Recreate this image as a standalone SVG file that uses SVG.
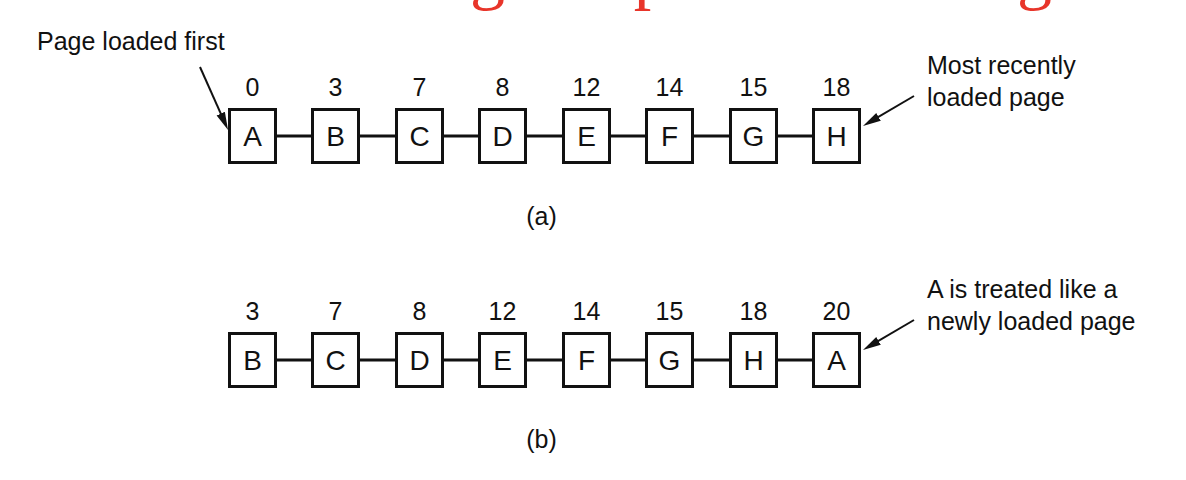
<svg xmlns="http://www.w3.org/2000/svg" width="1186" height="480" viewBox="0 0 1186 480">
  <style>
    .box { fill: #fff; stroke: #111; stroke-width: 3; }
    .conn { stroke: #111; stroke-width: 3; fill: none; }
    .arr { stroke: #111; stroke-width: 2; fill: none; marker-end: url(#ah); }
    .lbl { font-family: "Liberation Sans", Arial, sans-serif; font-size: 28px; fill: #111; text-anchor: middle; }
    .num { font-family: "Liberation Sans", Arial, sans-serif; font-size: 25px; fill: #111; text-anchor: middle; }
    .txt { font-family: "Liberation Sans", Arial, sans-serif; font-size: 25px; fill: #111; }
    .cap { font-family: "Liberation Sans", Arial, sans-serif; font-size: 25px; fill: #111; text-anchor: middle; }
    .title { font-family: "Liberation Serif", "Times New Roman", serif; font-size: 70px; fill: #e8352a; }
  </style>
  <defs>
    <marker id="ah" markerUnits="userSpaceOnUse" markerWidth="20" markerHeight="12" viewBox="0 0 20 12" refX="10" refY="6" orient="auto">
      <path d="M0,1.5 L18,6 L0,10.5 Z" fill="#111"/>
    </marker>
  </defs>
  <rect width="1186" height="480" fill="#fff"/>

  <text class="title" y="-4"><tspan x="-81">Second Chance </tspan><tspan x="400">Page </tspan><tspan x="556">Replacement </tspan><tspan x="947">Algorithm</tspan></text>

  <g id="connectors">
    <line class="conn" x1="277" y1="136" x2="311" y2="136"/>
    <line class="conn" x1="360" y1="136" x2="395" y2="136"/>
    <line class="conn" x1="444" y1="136" x2="478" y2="136"/>
    <line class="conn" x1="527" y1="136" x2="562" y2="136"/>
    <line class="conn" x1="611" y1="136" x2="645" y2="136"/>
    <line class="conn" x1="694" y1="136" x2="729" y2="136"/>
    <line class="conn" x1="778" y1="136" x2="812" y2="136"/>
    <line class="conn" x1="277" y1="360" x2="311" y2="360"/>
    <line class="conn" x1="360" y1="360" x2="395" y2="360"/>
    <line class="conn" x1="444" y1="360" x2="478" y2="360"/>
    <line class="conn" x1="527" y1="360" x2="562" y2="360"/>
    <line class="conn" x1="611" y1="360" x2="645" y2="360"/>
    <line class="conn" x1="694" y1="360" x2="729" y2="360"/>
    <line class="conn" x1="778" y1="360" x2="812" y2="360"/>
    <line class="arr" x1="200" y1="67" x2="224.8" y2="122.7"/>
    <line class="arr" x1="914" y1="96" x2="869.9" y2="121.9"/>
    <line class="arr" x1="914" y1="320" x2="869.9" y2="345.9"/>
  </g>

  <g id="row-a">
    <g id="a-A"><rect class="box" x="229.5" y="109.5" width="46" height="53"/><text class="num" x="252.5" y="96">0</text><text class="lbl" x="252.5" y="146">A</text></g>
    <g id="a-B"><rect class="box" x="312.5" y="109.5" width="46" height="53"/><text class="num" x="335.5" y="96">3</text><text class="lbl" x="335.5" y="146">B</text></g>
    <g id="a-C"><rect class="box" x="396.5" y="109.5" width="46" height="53"/><text class="num" x="419.5" y="96">7</text><text class="lbl" x="419.5" y="146">C</text></g>
    <g id="a-D"><rect class="box" x="479.5" y="109.5" width="46" height="53"/><text class="num" x="502.5" y="96">8</text><text class="lbl" x="502.5" y="146">D</text></g>
    <g id="a-E"><rect class="box" x="563.5" y="109.5" width="46" height="53"/><text class="num" x="586.5" y="96">12</text><text class="lbl" x="586.5" y="146">E</text></g>
    <g id="a-F"><rect class="box" x="646.5" y="109.5" width="46" height="53"/><text class="num" x="669.5" y="96">14</text><text class="lbl" x="669.5" y="146">F</text></g>
    <g id="a-G"><rect class="box" x="730.5" y="109.5" width="46" height="53"/><text class="num" x="753.5" y="96">15</text><text class="lbl" x="753.5" y="146">G</text></g>
    <g id="a-H"><rect class="box" x="813.5" y="109.5" width="46" height="53"/><text class="num" x="836.5" y="96">18</text><text class="lbl" x="836.5" y="146">H</text></g>
  </g>

  <g id="row-b">
    <g id="b-B"><rect class="box" x="229.5" y="333.5" width="46" height="53"/><text class="num" x="252.5" y="320">3</text><text class="lbl" x="252.5" y="370">B</text></g>
    <g id="b-C"><rect class="box" x="312.5" y="333.5" width="46" height="53"/><text class="num" x="335.5" y="320">7</text><text class="lbl" x="335.5" y="370">C</text></g>
    <g id="b-D"><rect class="box" x="396.5" y="333.5" width="46" height="53"/><text class="num" x="419.5" y="320">8</text><text class="lbl" x="419.5" y="370">D</text></g>
    <g id="b-E"><rect class="box" x="479.5" y="333.5" width="46" height="53"/><text class="num" x="502.5" y="320">12</text><text class="lbl" x="502.5" y="370">E</text></g>
    <g id="b-F"><rect class="box" x="563.5" y="333.5" width="46" height="53"/><text class="num" x="586.5" y="320">14</text><text class="lbl" x="586.5" y="370">F</text></g>
    <g id="b-G"><rect class="box" x="646.5" y="333.5" width="46" height="53"/><text class="num" x="669.5" y="320">15</text><text class="lbl" x="669.5" y="370">G</text></g>
    <g id="b-H"><rect class="box" x="730.5" y="333.5" width="46" height="53"/><text class="num" x="753.5" y="320">18</text><text class="lbl" x="753.5" y="370">H</text></g>
    <g id="b-A"><rect class="box" x="813.5" y="333.5" width="46" height="53"/><text class="num" x="836.5" y="320">20</text><text class="lbl" x="836.5" y="370">A</text></g>
  </g>

  <g id="labels">
    <text class="txt" x="37" y="50">Page loaded first</text>
    <text class="txt" x="927" y="74">Most recently</text>
    <text class="txt" x="927" y="106">loaded page</text>
    <text class="txt" x="927" y="298">A is treated like a</text>
    <text class="txt" x="927" y="330">newly loaded page</text>
    <text class="cap" x="541.5" y="225">(a)</text>
    <text class="cap" x="541.5" y="448">(b)</text>
  </g>
</svg>
